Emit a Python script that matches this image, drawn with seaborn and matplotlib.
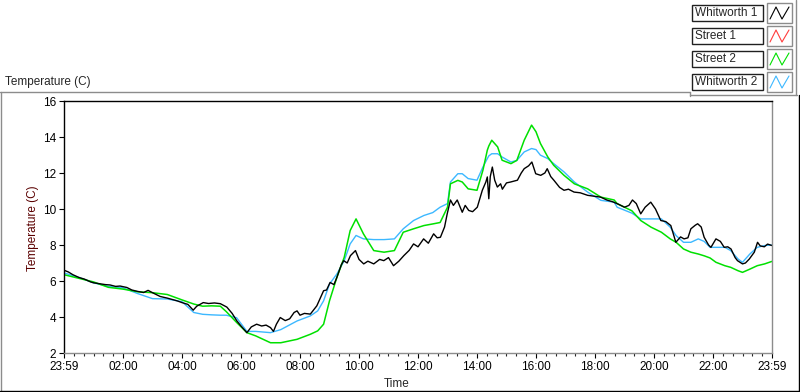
import numpy as np
import pandas as pd
import matplotlib
matplotlib.use("Agg")
import matplotlib.pyplot as plt
from matplotlib.lines import Line2D
from matplotlib.patches import Rectangle
from matplotlib.ticker import MultipleLocator, FixedLocator
import seaborn as sns

# --- data (hours after midnight, temperature in C) ---
hours = [0, 0.5, 1.0, 1.5, 2.0, 2.5, 3.0, 3.5, 4.0, 4.4, 4.7, 5.0, 5.3, 5.5, 5.85,
         6.2, 6.5, 7.0, 7.35, 7.9, 8.35, 8.6, 8.8, 9.0, 9.25, 9.5, 9.7, 9.9, 10.15,
         10.5, 10.85, 11.2, 11.5, 11.85, 12.2, 12.5, 12.75, 13.0, 13.1, 13.35, 13.5,
         13.7, 14.0, 14.2, 14.35, 14.4, 14.5, 14.7, 14.85, 15.15, 15.35, 15.6, 15.85,
         16.0, 16.15, 16.4, 16.6, 16.95, 17.3, 17.75, 18.2, 18.65, 18.75, 19.25,
         19.55, 19.9, 20.25, 20.55, 20.75, 21.0, 21.25, 21.5, 21.7, 21.9, 22.1, 22.4,
         22.6, 22.85, 23.0, 23.25, 23.5, 23.75, 24.0]

street2 = [6.35, 6.15, 5.95, 5.65, 5.55, 5.4, 5.35, 5.25, 4.95, 4.72, 4.6, 4.62, 4.6,
           4.3, 3.7, 3.13, 2.95, 2.57, 2.57, 2.76, 3.04, 3.23, 3.6, 4.9, 6.2, 7.32,
           8.8, 9.45, 8.62, 7.69, 7.6, 7.69, 8.71, 8.9, 9.08, 9.17, 9.25, 10.1, 11.4,
           11.59, 11.5, 11.12, 11.04, 12.15, 13.27, 13.5, 13.82, 13.45, 12.71, 12.52,
           12.7, 13.82, 14.66, 14.29, 13.64, 12.89, 12.43, 11.87, 11.4, 11.12, 10.66,
           10.5, 10.3, 9.9, 9.36, 8.99, 8.71, 8.34, 8.15, 7.78, 7.6, 7.5, 7.4, 7.28,
           7.04, 6.85, 6.76, 6.57, 6.48, 6.66, 6.85, 6.95, 7.09]

whitworth2 = [6.45, 6.2, 5.9, 5.7, 5.62, 5.3, 5.02, 5.0, 4.85, 4.25, 4.15, 4.12, 4.1,
              4.1, 3.96, 3.2, 3.2, 3.13, 3.3, 3.78, 4.06, 4.34, 4.9, 5.83, 6.39, 7.13,
              8.06, 8.53, 8.34, 8.3, 8.3, 8.34, 8.9, 9.36, 9.64, 9.8, 10.1, 10.3, 11.5,
              11.96, 11.96, 11.69, 11.6, 12.33, 12.8, 12.95, 13.07, 13.07, 12.89, 12.61,
              12.7, 13.17, 13.36, 13.3, 12.99, 12.8, 12.52, 12.06, 11.5, 10.94, 10.48,
              10.38, 10.1, 9.77, 9.45, 9.45, 9.45, 8.99, 8.52, 8.15, 8.15, 8.34, 8.2,
              7.87, 7.87, 7.87, 7.69, 7.22, 7.04, 7.5, 7.87, 7.97, 8.0]

hours_w1 = [0, 0.15, 0.3, 0.5, 0.7, 0.9, 1.0, 1.2, 1.4, 1.56, 1.75, 1.9, 2.13, 2.3, 2.5,
            2.7, 2.85, 3.0, 3.26, 3.5, 3.83, 4.0, 4.2, 4.38, 4.5, 4.72, 4.9, 5.1, 5.3,
            5.52, 5.7, 5.86, 6.0, 6.2, 6.35, 6.53, 6.7, 6.85, 7.0, 7.1, 7.2, 7.33, 7.5,
            7.65, 7.8, 7.9, 8.0, 8.15, 8.35, 8.57, 8.8, 8.9, 9.02, 9.15, 9.25, 9.4, 9.48,
            9.6, 9.71, 9.88, 10.0, 10.16, 10.3, 10.5, 10.7, 10.84, 11.0, 11.17, 11.35,
            11.52, 11.7, 11.85, 12.0, 12.19, 12.35, 12.53, 12.65, 12.76, 12.9, 12.99,
            13.1, 13.2, 13.33, 13.5, 13.6, 13.72, 13.85, 14.01, 14.18, 14.3, 14.35, 14.4,
            14.45, 14.52, 14.6, 14.69, 14.8, 14.86, 15.0, 15.14, 15.37, 15.5, 15.6,
            15.75, 15.86, 15.99, 16.16, 16.3, 16.38, 16.5, 16.61, 16.8, 16.95, 17.1,
            17.29, 17.5, 17.75, 18.0, 18.19, 18.4, 18.6, 18.76, 19.0, 19.15, 19.27, 19.4,
            19.55, 19.7, 19.89, 20.05, 20.23, 20.4, 20.57, 20.74, 20.9, 21.02, 21.15,
            21.25, 21.4, 21.48, 21.6, 21.7, 21.85, 21.93, 22.05, 22.1, 22.25, 22.38,
            22.5, 22.61, 22.75, 22.83, 23.0, 23.1, 23.23, 23.4, 23.51, 23.6, 23.74,
            23.85, 24.0]

whitworth1 = [6.6, 6.5, 6.35, 6.2, 6.1, 5.95, 5.9, 5.85, 5.8, 5.78, 5.7, 5.72, 5.64, 5.5,
              5.42, 5.36, 5.48, 5.35, 5.14, 5.05, 4.9, 4.8, 4.7, 4.38, 4.6, 4.8, 4.75,
              4.78, 4.74, 4.55, 4.2, 3.78, 3.5, 3.13, 3.45, 3.6, 3.5, 3.55, 3.41, 3.2,
              3.6, 3.97, 3.8, 3.9, 4.25, 4.34, 4.1, 4.2, 4.16, 4.62, 5.46, 5.5, 5.92,
              5.8, 6.2, 6.9, 7.13, 7.0, 7.41, 7.69, 7.2, 6.95, 7.1, 6.95, 7.2, 7.13, 7.3,
              6.85, 7.1, 7.41, 7.7, 8.06, 7.9, 8.34, 8.1, 8.62, 8.4, 8.43, 9.0, 9.73,
              10.5, 10.2, 10.5, 9.82, 10.2, 9.92, 9.85, 10.1, 11.04, 11.5, 11.78, 10.57,
              11.8, 12.33, 11.6, 11.22, 11.4, 11.1, 11.45, 11.5, 11.6, 12.0, 12.24, 12.4,
              12.61, 11.96, 11.87, 12.0, 12.24, 11.8, 11.59, 11.2, 11.04, 11.1, 10.94,
              10.9, 10.76, 10.7, 10.66, 10.5, 10.4, 10.29, 10.1, 10.2, 10.5, 10.3, 9.73,
              10.1, 10.38, 10.0, 9.36, 9.3, 9.08, 8.15, 8.45, 8.34, 8.4, 8.9, 9.1, 9.18,
              9.0, 8.43, 8.0, 7.87, 8.2, 8.34, 8.2, 7.87, 7.9, 7.78, 7.3, 7.13, 6.95, 7.0,
              7.22, 7.6, 8.15, 7.95, 7.9, 8.05, 7.97]

street1 = []  # no visible data

names = ["Whitworth 1", "Street 1", "Street 2", "Whitworth 2"]
colors = ["#000000", "#ff3c3c", "#00e000", "#3cb8ff"]

xticks = list(range(0, 25, 2))
xlabels = ["23:59"] + ["%02d:00" % h for h in range(2, 24, 2)] + ["23:59"]

sns.set_style("white")
plt.rcParams["font.family"] = ["Liberation Sans", "DejaVu Sans"]

W, H = 800, 392
fig = plt.figure(figsize=(8, 3.92), dpi=100)


def fx(px):
    return px / W


def fy(py):
    return 1 - py / H


ax = fig.add_axes([fx(64), fy(353), fx(772) - fx(64), fy(101) - fy(353)])

df2 = pd.DataFrame({"h": hours, "s2": street2, "w2": whitworth2})
df1 = pd.DataFrame({"h": hours_w1, "w1": whitworth1})

sns.lineplot(data=df2, x="h", y="w2", ax=ax, color=colors[3], lw=1.0, legend=False)
sns.lineplot(data=df2, x="h", y="s2", ax=ax, color=colors[2], lw=1.1, legend=False)
sns.lineplot(data=df1, x="h", y="w1", ax=ax, color=colors[0], lw=1.0, legend=False)

ax.set_xlim(0, 24)
ax.set_ylim(2, 16)
ax.set_xlabel("")
ax.set_ylabel("")
ax.xaxis.set_major_locator(FixedLocator(xticks))
ax.set_xticklabels(xlabels)
ax.xaxis.set_minor_locator(MultipleLocator(1 / 3))
ax.yaxis.set_major_locator(MultipleLocator(2))
ax.tick_params(axis="both", which="major", direction="out", length=3.5, width=0.8,
               labelsize=8.5, pad=2, colors="black", bottom=True, left=True)
ax.tick_params(axis="x", which="minor", direction="out", length=2.2, width=0.8,
               bottom=True)
for s in ["left", "top"]:
    ax.spines[s].set_color("black")
    ax.spines[s].set_linewidth(1.0)
for s in ["right", "bottom"]:
    ax.spines[s].set_color("#8c8c8c")
    ax.spines[s].set_linewidth(1.0)
ax.grid(False)

# labels
fig.text(fx(5), fy(82), "Temperature (C)", fontsize=8.5, ha="left", va="center")
fig.text(fx(33), fy(228), "Temperature (C)", fontsize=8.5, rotation=90,
         ha="center", va="center", color="#5a0000")
fig.text(fx(397), fy(384), "Time", fontsize=8.5, ha="center", va="center")

# outer frame
gray = "#8c8c8c"
fig.add_artist(Line2D([fx(0.5), fx(0.5)], [fy(92), fy(392)], color=gray, lw=1))
fig.add_artist(Line2D([fx(0), fx(690)], [fy(92), fy(92)], color=gray, lw=1))
fig.add_artist(Line2D([fx(690), fx(690)], [fy(92), fy(96)], color=gray, lw=1))
fig.add_artist(Line2D([fx(690), fx(797)], [fy(95), fy(95)], color=gray, lw=1))
fig.add_artist(Line2D([fx(796), fx(796)], [fy(0), fy(95)], color=gray, lw=1))
fig.add_artist(Line2D([fx(799), fx(799)], [fy(95), fy(392)], color="black", lw=1))
fig.add_artist(Line2D([fx(0), fx(800)], [fy(391), fy(391)], color="black", lw=1))

# legend panel
row_y = [13, 36, 59, 82]
for name, col, cy in zip(names, colors, row_y):
    fig.add_artist(Rectangle((fx(692), fy(cy + 8)), fx(763) - fx(692), fy(cy - 8) - fy(cy + 8),
                             facecolor="white", edgecolor="#202020", lw=1))
    fig.text(fx(695), fy(cy), name, fontsize=8.5, ha="left", va="center")
    fig.add_artist(Rectangle((fx(767), fy(cy + 10)), fx(792) - fx(767), fy(cy - 10) - fy(cy + 10),
                             facecolor="white", edgecolor=gray, lw=1))
    zx = [fx(770), fx(776), fx(782), fx(789)]
    zy = [fy(cy + 6), fy(cy - 6), fy(cy + 6), fy(cy - 6)]
    fig.add_artist(Line2D(zx, zy, color=col, lw=0.8))

fig.savefig("out.png", dpi=100, facecolor="white")
